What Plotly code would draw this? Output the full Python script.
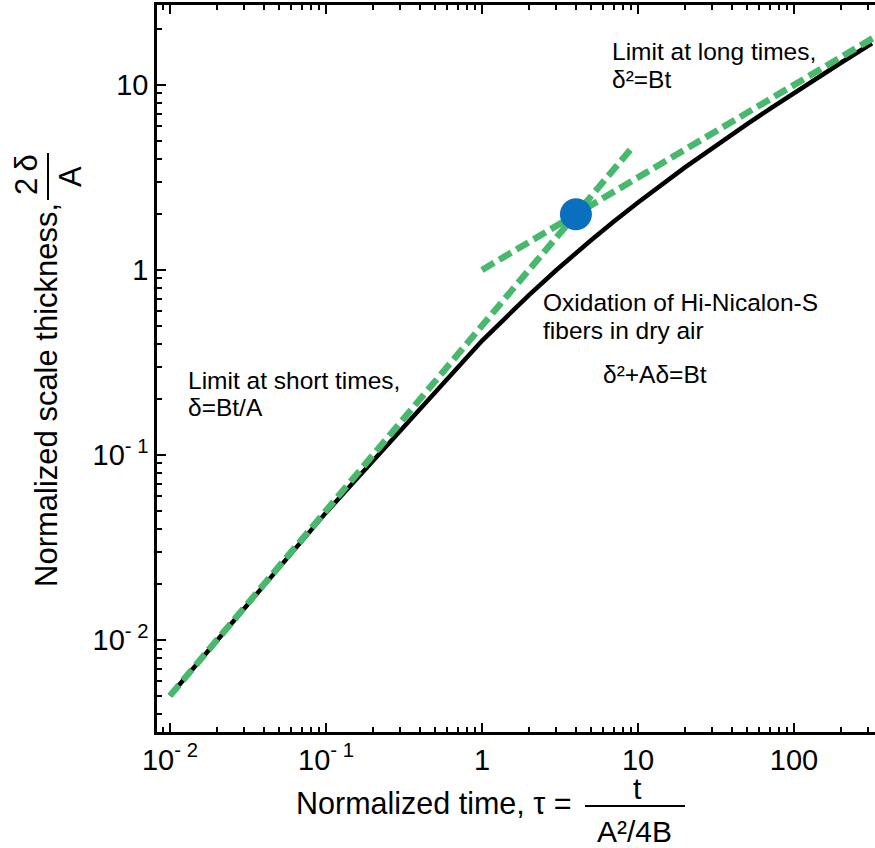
import plotly.graph_objects as go

# ---- data ----
tau = [0.01, 0.1, 1, 2, 3, 4, 5, 7, 10, 20, 30, 50, 70, 100, 200, 316]
thickness = [0.005, 0.0488, 0.414, 0.732, 1.0, 1.236, 1.449, 1.828, 2.317,
             3.583, 4.568, 6.141, 7.426, 9.050, 13.177, 16.803]
short_tau = [0.01, 9]
short_val = [0.005, 4.5]
long_tau = [1, 320]
long_val = [1, 17.89]
point_tau = [4]
point_val = [2]

x_tickvals = [0.01, 0.1, 1, 10, 100]
x_ticktext = ["10<sup>- 2</sup>", "10<sup>- 1</sup>", "1", "10", "100"]
y_tickvals = [0.01, 0.1, 1, 10]
y_ticktext = ["10<sup>- 2</sup>", "10<sup>- 1</sup>", "1", "10"]

FONT = "Liberation Sans, Arial, sans-serif"
GREEN = "#47b86c"
BLUE = "#0a6fbf"

# plot area in pixels
L, R, T, B = 157, 875, 5, 732
W, H = 875, 848


def px(x):
    return (x - L) / (R - L)


def py(y):
    return (B - y) / (B - T)


minor_x = [m * 10 ** e for e in range(-3, 3) for m in range(2, 10)]
minor_y = [m * 10 ** e for e in range(-3, 2) for m in range(2, 10)]

fig = go.Figure()
fig.add_trace(go.Scatter(x=tau, y=thickness, mode="lines",
                         line=dict(color="black", width=4.5), showlegend=False))
fig.add_trace(go.Scatter(x=short_tau, y=short_val, mode="lines",
                         line=dict(color=GREEN, width=6.5, dash="14px,6px"), showlegend=False))
fig.add_trace(go.Scatter(x=long_tau, y=long_val, mode="lines",
                         line=dict(color=GREEN, width=6.5, dash="14px,6px"), showlegend=False))
fig.add_trace(go.Scatter(x=point_tau, y=point_val, mode="markers",
                         marker=dict(color=BLUE, size=32, line=dict(width=0)), showlegend=False))

fig.update_layout(
    width=W, height=H,
    margin=dict(l=L, r=W - R, t=T, b=H - B),
    paper_bgcolor="white", plot_bgcolor="white",
    font=dict(family=FONT, color="black"),
    showlegend=False,
)
fig.update_xaxes(
    type="log", range=[-2.083, 2.519],
    showgrid=False, zeroline=False,
    showline=True, linecolor="black", linewidth=2.5, mirror="ticks",
    ticks="inside", ticklen=9, tickwidth=2, tickcolor="black",
    tickvals=x_tickvals, ticktext=x_ticktext,
    tickfont=dict(size=29, family=FONT),
    minor=dict(tickvals=minor_x, ticks="inside", ticklen=5, tickwidth=2,
               tickcolor="black", showgrid=False),
)
fig.update_yaxes(
    type="log", range=[-2.497, 1.432],
    showgrid=False, zeroline=False,
    showline=True, linecolor="black", linewidth=2.5, mirror=False,
    ticks="inside", ticklen=9, tickwidth=2, tickcolor="black",
    tickvals=y_tickvals, ticktext=y_ticktext,
    tickfont=dict(size=29, family=FONT),
    minor=dict(tickvals=minor_y, ticks="inside", ticklen=5, tickwidth=2,
               tickcolor="black", showgrid=False),
)

ann = []


def text(t, x, y, size=24.5, xanchor="left", angle=0):
    ann.append(dict(text=t, x=px(x), y=py(y), xref="paper", yref="paper",
                    xanchor=xanchor, yanchor="middle", showarrow=False,
                    textangle=angle, font=dict(size=size, family=FONT, color="black")))


# annotations in the plot
text("Limit at long times,", 610, 51)
text("δ²=Bt", 610, 79)
text("Oxidation of Hi-Nicalon-S", 541, 302)
text("fibers in dry air", 541, 330)
text("δ²+Aδ=Bt", 655, 374, xanchor="center")
text("Limit at short times,", 186, 380)
text("δ=Bt/A", 186, 407)

# x axis title with fraction
text("Normalized time, τ =", 574, 803, size=30.5, xanchor="right")
text("t", 637, 788, size=30, xanchor="center")
text("A²/4B", 634, 831, size=30, xanchor="center")

# y axis title with fraction
text("Normalized scale thickness,", 46, 395, size=31, xanchor="center", angle=-90)
text("2\u2009δ", 26, 175, size=31, xanchor="center", angle=-90)
text("A", 71, 177, size=31, xanchor="center", angle=-90)

fig.update_layout(annotations=ann)

fig.add_shape(type="line", xref="paper", yref="paper",
              x0=px(585), x1=px(685), y0=py(806), y1=py(806),
              line=dict(color="black", width=2))
fig.add_shape(type="line", xref="paper", yref="paper",
              x0=px(48), x1=px(48), y0=py(153), y1=py(200),
              line=dict(color="black", width=2))

fig.write_html("out.html")
